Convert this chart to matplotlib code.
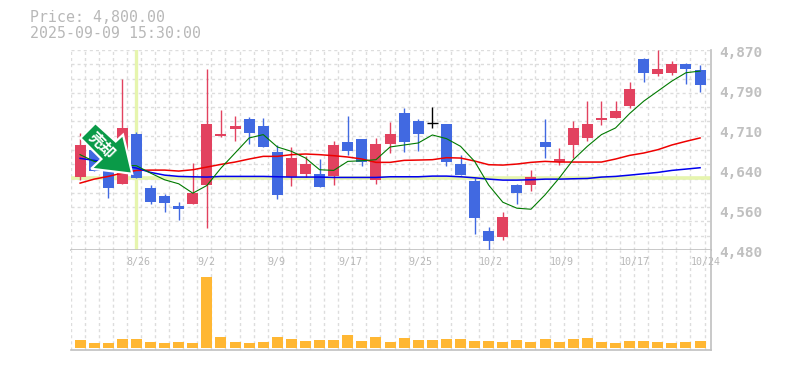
#!/usr/bin/env python3
# candlestick chart with moving averages and volume panel
import numpy as np
import matplotlib
matplotlib.use('Agg')
import matplotlib.pyplot as plt
from matplotlib.patches import Polygon
from matplotlib.transforms import Affine2D

opens = [4621.5,4675.6,4643,4607.8,4707,4601.3,4585.6,4566,4570.6,4605.8,4701.7,4715.4,4736.3,4722.6,4671.7,
         4621.5,4627.4,4628.7,4623.5,4691.3,4697.2,4615.6,4686.1,4748,4732.4,4728.5,4726.5,4648.2,4615,4517.1,
         4506,4607.2,4605.8,4691.3,4652.2,4684.1,4697.8,4733,4737,4760.4,4851.8,4823,4825,4842,4830.2]
closes = [4685.4,4633.2,4600,4718.7,4619.5,4574.5,4572.6,4560.8,4591.5,4726.5,4707,4722.6,4707.6,4680.2,4588.2,
          4660,4648.2,4601.9,4685.4,4672.4,4650.9,4687.4,4707,4690,4705.6,4728.5,4650.9,4625.4,4543.2,4498.2,
          4544.5,4590.2,4622.8,4680.2,4658,4718.7,4726.5,4738.3,4752,4793,4825,4832.2,4842,4832.8,4801.5]
highs = [4708.3,4678.9,4646,4812.6,4710.9,4607.2,4589.5,4573.9,4650.2,4832.2,4753.9,4742.2,4740.2,4738.3,4685.4,
         4681.5,4663.9,4658,4693.2,4742.2,4697.2,4699.1,4730.4,4757.8,4736.3,4759.8,4726.5,4665.9,4620.2,4525,
         4554.3,4609.1,4636.5,4736.3,4679.6,4732.4,4769.6,4771.5,4769.6,4806.8,4853.7,4869.4,4847.8,4843.9,4840]
lows = [4615.6,4633.2,4582,4607.8,4619.5,4570.6,4555,4539.3,4570.6,4523.7,4699.8,4692,4686.1,4680.2,4580.4,
        4603.9,4621.5,4601.9,4605.8,4664.6,4643,4607.8,4668.5,4670.4,4672.4,4717.4,4643,4625.4,4511.9,4478.6,
        4500.2,4570,4594.1,4660,4645,4660,4692,4723.3,4737,4756.5,4807.4,4819.2,4821.1,4803.5,4787.8]
ma_red = [4610.4,4618.2,4623.5,4630,4635.2,4635.8,4635.8,4633.9,4636.5,4641.7,4647,4651.5,4657.4,4662.6,4662.6,
          4665.9,4667.2,4665.9,4663.9,4661.3,4657.4,4650.9,4650.9,4654.8,4655.4,4656.1,4660,4659.3,4653.5,4646.3,
          4645.6,4647.6,4650.9,4652.8,4651.5,4651.5,4651.5,4651.5,4657.4,4664.5,4669.1,4675.6,4684.8,4691.9,4698.5]
ma_blue = [4658.7,4654.8,4649.6,4644.3,4639.8,4631.3,4626,4623.5,4622.8,4622.2,4623.5,4623.5,4623.5,4623.5,4622.8,
           4622.2,4622.2,4622.2,4621.5,4621.5,4621.5,4621.5,4622.8,4622.8,4622.8,4624.1,4624.1,4622.8,4620.8,4618.2,
           4616.3,4616.3,4617,4618.2,4618.2,4618.9,4619.5,4622.2,4623.5,4626,4628.7,4631.3,4635.2,4637.8,4640.4]
ma_green = [4665.9,4652.8,4648.2,4645.6,4644.3,4630,4616.9,4609.1,4590.8,4605.8,4639.8,4669.1,4698.5,4705,4680.9,
            4672.4,4659.3,4636.5,4635.2,4652.8,4654.1,4656.1,4680.9,4684.8,4688.7,4704.3,4697.2,4682.2,4652.8,4606.5,
            4573.2,4561.5,4559.5,4587.6,4620.2,4656.1,4682.2,4705,4718,4746.1,4770.2,4789.8,4809.4,4825.7,4828.9]
volume = [8000,5000,5000,9000,9000,6000,5000,6000,5000,71000,11000,6000,5000,6000,11000,9000,7000,8000,8000,13000,7000,11000,6000,
          10000,8000,8000,9000,9000,7000,7000,6000,8000,6000,9000,6000,9000,10000,6000,5000,7000,7000,6000,5000,6000,7000]
price_ticks = [4870,4792,4714,4636,4558,4480]
price_labels = ['4,870','4,790','4,710','4,640','4,560','4,480']
date_grid = [4,9,14,19,24,29,34,39,44]
date_labels = ['8/26','9/2','9/9','9/17','9/25','10/2','10/9','10/17','10/24']
cross_idx = 4
cross_price = 4620.2

RED = '#e2425f'
BLUE = '#4169e1'
GRAY = '#c0c0c0'
GRID = '#dddddd'
PALE = '#e6f5ae'
W, H = 785, 370
plt.rcParams['font.family'] = ['DejaVu Sans Mono', 'Noto Sans CJK JP']

fig = plt.figure(figsize=(W/100, H/100), dpi=100)
ax = fig.add_axes([70.5/W, (H-250)/H, 640/W, 200/H])
ax2 = fig.add_axes([70.5/W, (H-350)/H, 640/W, 100/H])

x = np.arange(len(opens))
grid_x = np.arange(46) - 0.68

for a in (ax, ax2):
    a.set_xlim(-0.68, 44.74)
    a.set_xticks(grid_x)
    a.tick_params(length=0, labelbottom=False, labelleft=False)
    a.set_axisbelow(True)
    a.grid(True, axis='x', color=GRID, lw=1, dashes=(2.2, 2.2))
    a.spines['top'].set_visible(False)
    a.spines['left'].set_visible(False)
    a.spines['right'].set_color(GRAY)
    a.spines['bottom'].set_color(GRAY)
    a.spines['right'].set_linewidth(1.2)
    a.spines['bottom'].set_linewidth(1.2)

#price panel
ax.set_ylim(4480, 4870)
ax.set_yticks(np.linspace(4480, 4870, 15))
ax.grid(True, axis='y', color=GRID, lw=1, dashes=(2.2, 2.2))

ax.axhline(cross_price, color=PALE, lw=2.6, zorder=1)
ax.axvline(cross_idx, color=PALE, lw=2.4, zorder=1, ymin=0, ymax=1)

for i in x:
    if opens[i] == closes[i]:
        ax.vlines(i, lows[i], highs[i], color='black', lw=1, zorder=3, snap=True)
        ax.hlines(opens[i], i-0.38, i+0.38, color='black', lw=1, zorder=3, snap=True)
        continue
    c = RED if closes[i] > opens[i] else BLUE
    ax.vlines(i, lows[i], highs[i], color=c, lw=1, zorder=3, snap=True)
    ax.bar(i, abs(closes[i]-opens[i]), bottom=min(opens[i], closes[i]), width=0.78, color=c, zorder=3)

ax.plot(x, ma_red, color='#ee0000', lw=1.1, zorder=4)
ax.plot(x, ma_blue, color='#0000ee', lw=1.1, zorder=4)
ax.plot(x, ma_green, color='#007a00', lw=0.8, zorder=4)

#arrow badge, drawn in pixels around its tip
tip = ax.transData.transform((3.70, 4628.7))
shape = [(-36.8,50.7),(-16.5,32.3),(-9.2,39),(0,0),(-41,5),(-30.8,14.7),(-51.8,35.7)]
to_px = Affine2D().translate(tip[0], tip[1])
ax.add_patch(Polygon(shape, closed=True, facecolor='#0a9a48', edgecolor='white', lw=1.6,
                     joinstyle='miter', transform=to_px, zorder=6, clip_on=False))
ax.text(tip[0]-30, tip[1]+28, '売却', color='white', fontsize=11, fontweight='bold', rotation=-45,
        ha='center', va='center', family=['Noto Sans CJK JP'], transform=Affine2D(), zorder=7)

for p, lab in zip(price_ticks, price_labels):
    ax.annotate(lab, xy=(1, p), xycoords=ax.get_yaxis_transform(), xytext=(9, -3), textcoords='offset pixels',
                color=GRAY, fontsize=10.4, fontweight='bold', ha='left', va='center', annotation_clip=False)

#volume panel
ax2.set_ylim(-2000, 98000)
ax2.set_yticks([])
ax2.bar(x, volume, width=0.78, color='#ffb733', zorder=3)
for k, lab in zip(date_grid, date_labels):
    ax2.annotate(lab, xy=(grid_x[k], 1), xycoords=ax2.get_xaxis_transform(), xytext=(0, -12), textcoords='offset pixels',
                 color='#b8b8b8', fontsize=7.2, ha='left', va='center', annotation_clip=False)

fig.text(30/W, 1-18/H, 'Price: 4,800.00', color='#b8b8b8', fontsize=10.7, va='center', ha='left')
fig.text(30/W, 1-33/H, '2025-09-09 15:30:00', color='#b8b8b8', fontsize=10.7, va='center', ha='left')

plt.savefig('out.png', dpi=100)
